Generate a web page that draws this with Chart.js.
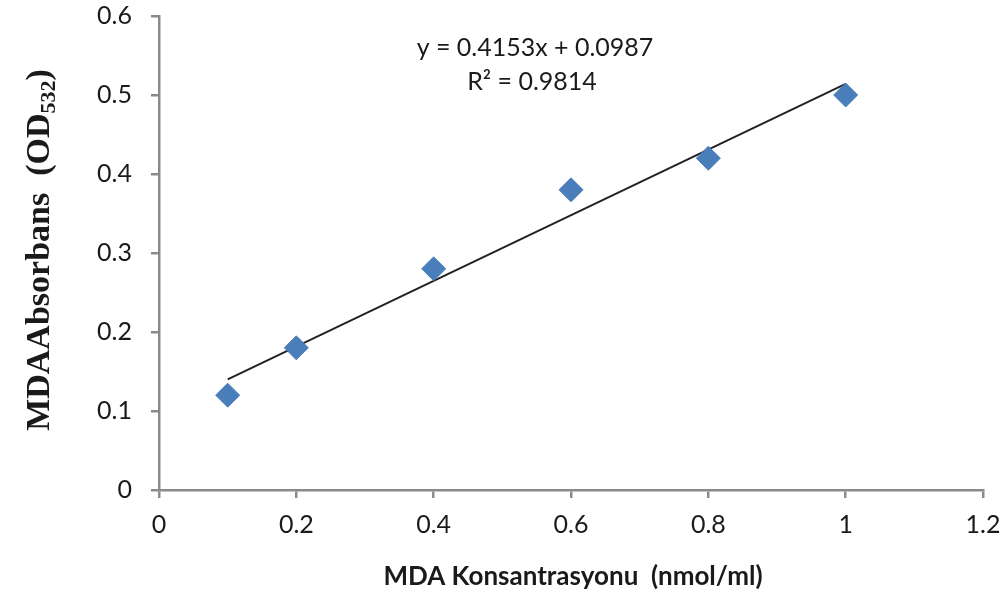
<!DOCTYPE html>
<html>
<head>
<meta charset="utf-8">
<script src="https://cdn.jsdelivr.net/npm/chart.js@4"></script>
<style>
  html, body { margin: 0; padding: 0; background: #fff; }
  #wrap { width: 1004px; height: 592px; position: relative; }
</style>
</head>
<body>
<div id="wrap"><canvas id="myChart" width="1004" height="592"></canvas></div>
<script>
// measured points
const concX = [0.1, 0.2, 0.4, 0.6, 0.8, 1.0];
const absY = [0.12, 0.18, 0.28, 0.38, 0.42, 0.50];

// trendline ends as drawn
const trendX = [0.1, 1.0];
const trendY = [0.140, 0.514];

const eqText = 'y = 0.4153x + 0.0987';
const r2Text = 'R² = 0.9814';
const xTitle = 'MDA Konsantrasyonu  (nmol/ml)';

const tickFont = { family: 'Lato, "Open Sans", sans-serif', size: 25 };
const axisGray = '#8a8a8a';

// y title with subscript, equation text and x title
const textPlugin = {
  id: 'texts',
  afterDraw(chart) {
    const ctx = chart.ctx;
    ctx.save();
    ctx.fillStyle = '#1a1a1a';
    // equation
    ctx.font = '25px Lato, "Open Sans", sans-serif';
    ctx.textAlign = 'center';
    ctx.textBaseline = 'middle';
    ctx.fillText(eqText, 535, 48);
    ctx.fillText(r2Text, 532, 82);
    // x title
    ctx.font = 'bold 26px Lato, "Open Sans", sans-serif';
    ctx.fillText(xTitle, 573, 577);
    // y title
    const big = 'bold 34px "Liberation Serif", "DejaVu Serif", serif';
    const small = 'bold 22px "Liberation Serif", "DejaVu Serif", serif';
    const p1 = 'MDAAbsorbans  (OD', p2 = '532', p3 = ')';
    ctx.font = big;
    const w1 = ctx.measureText(p1).width, w3 = ctx.measureText(p3).width;
    ctx.font = small;
    const w2 = ctx.measureText(p2).width;
    const total = w1 + w2 + w3;
    ctx.translate(37, 250);
    ctx.rotate(-Math.PI / 2);
    ctx.textAlign = 'left';
    ctx.textBaseline = 'alphabetic';
    let x0 = -total / 2;
    ctx.font = big;
    ctx.fillText(p1, x0, 12);
    ctx.font = small;
    ctx.fillText(p2, x0 + w1, 18);
    ctx.font = big;
    ctx.fillText(p3, x0 + w1 + w2, 12);
    ctx.restore();
  }
};

const points = concX.map((x, i) => ({ x: x, y: absY[i] }));
const trend = trendX.map((x, i) => ({ x: x, y: trendY[i] }));

new Chart(document.getElementById('myChart'), {
  type: 'scatter',
  data: {
    datasets: [
      {
        label: 'MDA',
        data: points,
        pointStyle: 'rectRot',
        pointRadius: 12,
        pointHoverRadius: 12,
        backgroundColor: '#4a7ebb',
        borderColor: '#4a7ebb',
        borderWidth: 1,
        order: 1
      },
      {
        label: 'Trend',
        data: trend,
        type: 'line',
        showLine: true,
        pointRadius: 0,
        borderColor: '#222',
        borderWidth: 2,
        fill: false,
        order: 2
      }
    ]
  },
  options: {
    responsive: false,
    animation: false,
    layout: { padding: { top: 16, right: 21, left: 0, bottom: 0 } },
    plugins: {
      legend: { display: false },
      tooltip: { enabled: false }
    },
    scales: {
      x: {
        type: 'linear',
        min: 0,
        max: 1.2,
        ticks: {
          stepSize: 0.2, font: tickFont, color: '#1a1a1a', padding: 12, maxRotation: 0,
          callback: v => String(Math.round(v * 10) / 10)
        },
        grid: { drawOnChartArea: false, color: axisGray, tickLength: 8, lineWidth: 2.5 },
        border: { color: axisGray, width: 2.5 },
        afterFit(scale) { scale.height = 102; scale.paddingLeft = 0; scale.paddingRight = 0; }
      },
      y: {
        min: 0,
        max: 0.6,
        ticks: { stepSize: 0.1, font: tickFont, color: '#1a1a1a', padding: 19 },
        grid: { drawOnChartArea: false, color: axisGray, tickLength: 8, lineWidth: 2.5 },
        border: { color: axisGray, width: 2.5 },
        afterFit(scale) { scale.width = 159; scale.paddingTop = 0; scale.paddingBottom = 0; }
      }
    }
  },
  plugins: [textPlugin]
});
</script>
</body>
</html>
